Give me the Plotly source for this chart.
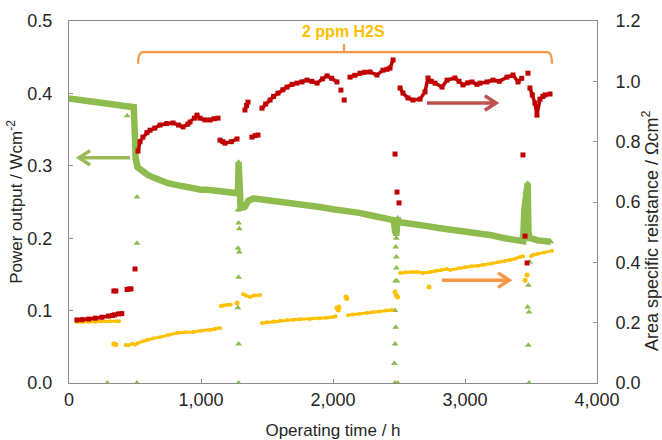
import plotly.graph_objects as go

# ---------------- data ----------------
# Power output (left axis), main band
green_t = [0, 50, 100, 150, 200, 250, 300, 350, 400, 450, 490, 500, 505, 520, 560, 600, 650,
           700, 750, 800, 850, 900, 950, 1000, 1050, 1100, 1150, 1200, 1250, 1280, 1285, 1290,
           1295, 1300, 1330, 1360, 1400, 1450, 1500, 1600, 1700, 1800, 1900, 2000, 2100, 2200,
           2300, 2400, 2460, 2470, 2480, 2490, 2500, 2550, 2600, 2700, 2800, 2900, 3000, 3100,
           3200, 3300, 3400, 3440, 3450, 3460, 3475, 3480, 3490, 3500, 3550, 3600, 3650]
green_p = [0.393, 0.392, 0.390, 0.389, 0.388, 0.387, 0.386, 0.384, 0.383, 0.382, 0.381, 0.340,
           0.310, 0.298, 0.292, 0.287, 0.283, 0.279, 0.276, 0.274, 0.272, 0.270, 0.269, 0.267,
           0.267, 0.266, 0.265, 0.264, 0.262, 0.262, 0.305, 0.280, 0.250, 0.242, 0.243, 0.252,
           0.255, 0.254, 0.253, 0.251, 0.248, 0.246, 0.243, 0.240, 0.238, 0.235, 0.231, 0.228,
           0.225, 0.210, 0.205, 0.228, 0.222, 0.221, 0.219, 0.217, 0.214, 0.212, 0.210, 0.207,
           0.204, 0.200, 0.196, 0.196, 0.240, 0.265, 0.276, 0.210, 0.198, 0.200, 0.197, 0.196,
           0.195]
# Power output, isolated points
green_out_t = [290, 440, 515, 515, 515,
               1280, 1285, 1290, 1280, 1290, 1285, 1280, 1285, 1285,
               2475, 2480, 2475, 2480, 2480, 2475, 2485, 2470, 2475, 2470, 2465, 2470, 2490,
               3480, 3490, 3480, 3475, 3485, 3480, 3485]
green_out_p = [0.0, 0.369, 0.257, 0.193, 0.0,
               0.239, 0.221, 0.213, 0.186, 0.181, 0.146, 0.104, 0.054, 0.0,
               0.213, 0.200, 0.188, 0.174, 0.159, 0.141, 0.141, 0.100, 0.077, 0.054, 0.027, 0.0, 0.0,
               0.216, 0.167, 0.135, 0.105, 0.098, 0.052, 0.0]

# Area specific resistance (right axis), red series
red_t = [60, 100, 150, 200, 250, 300, 330, 345, 375, 400, None,
         523, 538, 560, 590, 614, 650, 690, 740, 788, 830, 864, 900, 917, 950, 970, 992, 1030,
         1068, 1100, 1129, None,
         1144, 1165, 1182, 1230, 1273, None, 1386, 1410, 1432, None,
         1333, 1345, 1356, None,
         1462, 1490, 1523, 1550, 1583, 1620, 1652, 1690, 1727, 1765, 1803, 1840, 1879, 1920,
         1955, 1990, 2030, None,
         2129, 2165, 2205, 2240, 2280, 2333, 2379, 2410, 2432, 2455, None,
         2508, 2530, 2568, 2606, 2659, 2697, 2720, 2745, 2773, 2826, 2864, 2924, 2955, 2985,
         3020, 3053, 3090, 3114, 3167, 3212, 3260, 3318, 3364, 3402, 3430, None,
         3492, 3510, 3530, 3545, 3568, 3590, 3606, 3644]
red_r = [0.209, 0.210, 0.212, 0.215, 0.218, 0.222, 0.224, 0.226, 0.229, 0.230, None,
         0.769, 0.800, 0.815, 0.830, 0.838, 0.845, 0.855, 0.860, 0.862, 0.855, 0.849, 0.858,
         0.865, 0.878, 0.888, 0.878, 0.872, 0.872, 0.876, 0.878, None,
         0.805, 0.800, 0.795, 0.800, 0.809, None, 0.815, 0.820, 0.822, None,
         0.905, 0.920, 0.931, None,
         0.911, 0.925, 0.938, 0.950, 0.961, 0.972, 0.981, 0.990, 0.994, 0.998, 1.004, 1.000,
         0.994, 1.008, 1.018, 1.010, 0.998, None,
         1.014, 1.020, 1.027, 1.030, 1.031, 1.021, 1.037, 1.040, 1.044, 1.071, None,
         0.978, 0.961, 0.945, 0.938, 0.941, 0.965, 1.011, 1.000, 0.994, 0.981, 1.004, 1.011,
         1.000, 0.988, 0.995, 0.998, 0.990, 0.994, 0.998, 1.004, 1.000, 1.014, 1.021, 0.998,
         1.010, None,
         0.978, 0.955, 0.928, 0.888, 0.941, 0.950, 0.955, 0.958]
red_out_t = [340, 355, 440, 455, 470, 500, 2060, 2085, 2470, 2485, 2500, 3439, 3455, 3470, 3477]
red_out_r = [0.305, 0.305, 0.310, 0.312, 0.312, 0.378, 0.971, 0.938, 0.759, 0.633, 0.597,
             0.756, 0.487, 0.398, 1.027]

# Area specific resistance (right axis), yellow series
yel_t = [60, 100, 150, 200, 250, 310, 360, 380, None,
         430, 450, 480, 500, 523, 560, 591, 640, 690, 750, 818, 880, 939, 1000, 1068, 1106,
         1144, None,
         1150, 1170, 1200, 1225, None, 1318, 1340, 1371, 1400, 1447, None,
         1462, 1500, 1550, 1600, 1652, 1700, 1750, 1826, 1900, 1950, 2000, 2020, None,
         2114, 2150, 2200, 2258, 2300, 2350, 2400, 2447, None,
         2508, 2550, 2600, 2636, 2680, 2735, 2780, 2820, 2864, 2886, 2950, 3000, 3050, 3100,
         3136, 3200, 3250, 3300, 3341, 3380, 3417, 3440, None,
         3500, 3515, 3550, 3600, 3659]
yel_r = [0.202, 0.202, 0.203, 0.203, 0.204, 0.205, 0.205, 0.205, None,
         0.126, 0.125, 0.130, 0.127, 0.133, 0.138, 0.143, 0.148, 0.152, 0.159, 0.166, 0.168,
         0.169, 0.173, 0.176, 0.179, 0.182, None,
         0.255, 0.257, 0.259, 0.259, None, 0.295, 0.290, 0.285, 0.290, 0.292, None,
         0.199, 0.201, 0.204, 0.206, 0.209, 0.210, 0.211, 0.212, 0.214, 0.216, 0.219, 0.221, None,
         0.225, 0.227, 0.229, 0.232, 0.235, 0.237, 0.240, 0.242, None,
         0.365, 0.367, 0.368, 0.368, 0.365, 0.368, 0.372, 0.375, 0.378, 0.375, 0.380, 0.384,
         0.387, 0.389, 0.391, 0.396, 0.400, 0.404, 0.408, 0.412, 0.418, 0.420, None,
         0.420, 0.424, 0.428, 0.433, 0.438]
yel_out_t = [340, 355, 1273, 2030, 2040, 2045, 2098, 2105, 2470, 2480, 2490, 2727, 3455, 3470]
yel_out_r = [0.129, 0.128, 0.265, 0.249, 0.242, 0.252, 0.285, 0.280, 0.302, 0.290, 0.285,
             0.318, 0.341, 0.358]

x_ticks = [0, 1000, 2000, 3000, 4000]
x_labels = ["0", "1,000", "2,000", "3,000", "4,000"]

GREEN = "#8fbc4f"
RED = "#c00000"
YELLOW = "#ffc000"
AXC = "#8c8c8c"
TXT = "#262626"
FONT = "Liberation Sans, Arial, sans-serif"

fig = go.Figure()
fig.add_trace(go.Scatter(x=green_t, y=green_p, mode="lines+markers",
                         line=dict(color=GREEN, width=6.5),
                         marker=dict(symbol="triangle-up", size=6, color=GREEN),
                         showlegend=False))
fig.add_trace(go.Scatter(x=green_out_t, y=green_out_p, mode="markers",
                         marker=dict(symbol="triangle-up", size=6, color=GREEN),
                         showlegend=False))
fig.add_trace(go.Scatter(x=yel_t, y=yel_r, mode="lines+markers", yaxis="y2",
                         line=dict(color=YELLOW, width=3),
                         marker=dict(symbol="circle", size=4, color=YELLOW),
                         showlegend=False))
fig.add_trace(go.Scatter(x=yel_out_t, y=yel_out_r, mode="markers", yaxis="y2",
                         marker=dict(symbol="circle", size=5, color=YELLOW),
                         showlegend=False))
fig.add_trace(go.Scatter(x=red_t, y=red_r, mode="lines+markers", yaxis="y2",
                         line=dict(color=RED, width=3.5),
                         marker=dict(symbol="square", size=5, color=RED),
                         showlegend=False))
fig.add_trace(go.Scatter(x=red_out_t, y=red_out_r, mode="markers", yaxis="y2",
                         marker=dict(symbol="square", size=5, color=RED),
                         showlegend=False))


def arrow(x0, x1, y, yref, dx, dy, color):
    # shaft from x0 to x1 with chevron head at x1
    s = 1 if x1 > x0 else -1
    return [
        dict(type="line", xref="x", yref=yref, x0=x0, x1=x1, y0=y, y1=y,
             line=dict(color=color, width=3.5)),
        dict(type="path", xref="x", yref=yref,
             path=f"M {x1 - s*dx},{y + dy} L {x1},{y} L {x1 - s*dx},{y - dy}",
             line=dict(color=color, width=3.5)),
    ]


shapes = []
shapes += arrow(462, 75, 0.311, "y", 85, 0.010, "#9bbb59")
shapes += arrow(2712, 3235, 0.928, "y2", 85, 0.024, "#c0504d")
shapes += arrow(2826, 3335, 0.341, "y2", 85, 0.024, "#f79646")
# bracket for H2S exposure
shapes.append(dict(type="path", xref="x", yref="y",
                   path="M 523,0.441 Q 523,0.457 560,0.457 L 3622,0.457 Q 3659,0.457 3659,0.441",
                   line=dict(color="#f79646", width=2.2)))
shapes.append(dict(type="line", xref="x", yref="y", x0=2083, x1=2083, y0=0.457, y1=0.468,
                   line=dict(color="#f79646", width=2.2)))

annotations = [
    dict(x=2083, y=0.486, xref="x", yref="y", text="<b>2 ppm H2S</b>", showarrow=False,
         font=dict(family=FONT, size=16, color=YELLOW)),
    dict(x=1.0, xref="paper", xanchor="center", xshift=54, y=0.42, yref="paper",
         yanchor="middle", textangle=-90, showarrow=False,
         text="Area specific reistance / Ωcm<sup>2</sup>",
         font=dict(family=FONT, size=18, color=TXT)),
]

fig.update_layout(
    width=662, height=440,
    margin=dict(l=69, r=65, t=21, b=57, autoexpand=False),
    paper_bgcolor="white", plot_bgcolor="white",
    font=dict(family=FONT, size=18, color=TXT),
    shapes=shapes, annotations=annotations,
    xaxis=dict(range=[0, 4000], tickvals=x_ticks, ticktext=x_labels, automargin=False,
               showline=True, linecolor=AXC, linewidth=1, mirror=True,
               ticks="inside", ticklen=4, tickcolor=AXC, showgrid=False, zeroline=False,
               title=dict(text="Operating time / h", font=dict(size=17), standoff=16)),
    yaxis=dict(range=[0, 0.5], dtick=0.1, tickformat=".1f", automargin=False,
               showline=True, linecolor=AXC, linewidth=1,
               ticks="inside", ticklen=4, tickcolor=AXC, showgrid=False, zeroline=False,
               ticklabelstandoff=12,
               title=dict(text="Power output / Wcm<sup>-2</sup>", font=dict(size=17),
                          standoff=0)),
    yaxis2=dict(range=[0, 1.2], dtick=0.2, tickformat=".1f", overlaying="y", side="right",
                automargin=False,
                showline=True, linecolor=AXC, linewidth=1,
                ticks="inside", ticklen=4, tickcolor=AXC, showgrid=False, zeroline=False,
                ticklabelstandoff=14),
)

fig.write_html("out.html", config={"displayModeBar": False},
               post_script="document.body.style.margin='0';document.body.style.padding='0';")
